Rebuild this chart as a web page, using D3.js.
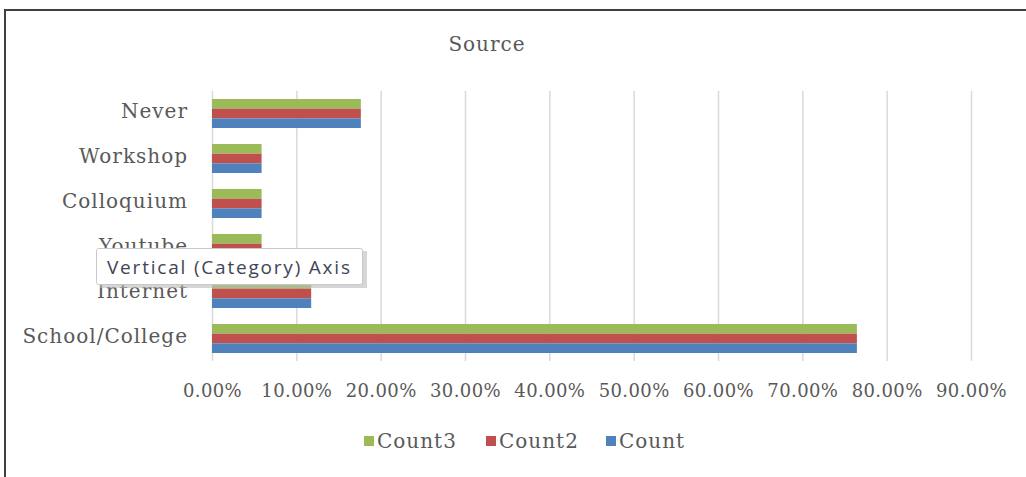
<!DOCTYPE html>
<html>
<head>
<meta charset="utf-8">
<script src="https://cdn.jsdelivr.net/npm/d3@7"></script>
<style>
  body { margin: 0; background: #fff; }
  svg { display: block; }
  .tick text { fill: #595959; }
</style>
</head>
<body>
<svg id="chart" width="1026" height="477"></svg>
<script>
// categories top to bottom
const categories = ['Never', 'Workshop', 'Colloquium', 'Youtube', 'Internet', 'School/College'];
const seriesNames = ['Count3', 'Count2', 'Count'];
const count = [0.1765, 0.0588, 0.0588, 0.0588, 0.1176, 0.7647];
const count2 = [0.1765, 0.0588, 0.0588, 0.0588, 0.1176, 0.7647];
const count3 = [0.1765, 0.0588, 0.0588, 0.0588, 0.1176, 0.7647];
const xTicks = [0, 0.1, 0.2, 0.3, 0.4, 0.5, 0.6, 0.7, 0.8, 0.9];
const colors = { Count3: '#9bbb59', Count2: '#c0504d', Count: '#4f81bd' };

const seriesValues = { Count3: count3, Count2: count2, Count: count };

const svg = d3.select('#chart');
const serif = 'DejaVu Serif';

// chart frame
svg.append('rect')
    .attr('x', 5).attr('y', 10)
    .attr('width', 1040).attr('height', 480)
    .attr('fill', '#fff')
    .attr('stroke', '#404040')
    .attr('stroke-width', 2);

svg.append('text')
    .attr('x', 487).attr('y', 51)
    .attr('text-anchor', 'middle')
    .attr('font-family', serif)
    .attr('font-size', 20)
    .attr('letter-spacing', 1)
    .attr('fill', '#595959')
    .text('Source');

const x = d3.scaleLinear().domain([0, 0.9]).range([212, 971]);
const y = d3.scaleBand().domain(categories).range([91, 361])
    .paddingInner(0.355).paddingOuter(0.1775);
const ySeries = d3.scaleBand().domain(seriesNames).range([0, y.bandwidth()]);

// gridlines
svg.append('g')
    .attr('transform', 'translate(0,361)')
    .call(d3.axisBottom(x).tickValues(xTicks).tickSize(-270).tickFormat(''))
    .call(g => g.select('.domain').remove())
    .call(g => g.selectAll('line').attr('stroke', '#d9d9d9').attr('stroke-width', 1.5));

// x tick labels
svg.append('g')
    .attr('transform', 'translate(0,361)')
    .call(d3.axisBottom(x).tickValues(xTicks).tickSize(0).tickPadding(23).tickFormat(d3.format('.2%')))
    .call(g => g.select('.domain').remove())
    .call(g => g.selectAll('text').attr('font-family', serif).attr('font-size', 18).attr('letter-spacing', 0.4));

// bars
const groups = svg.append('g').selectAll('g')
    .data(categories)
    .join('g')
    .attr('transform', d => `translate(0,${y(d)})`);

groups.selectAll('rect')
    .data((c, i) => seriesNames.map(s => ({ s, v: seriesValues[s][i] })))
    .join('rect')
    .attr('x', x(0))
    .attr('y', d => ySeries(d.s))
    .attr('width', d => x(d.v) - x(0))
    .attr('height', ySeries.bandwidth())
    .attr('fill', d => colors[d.s]);

// category axis
svg.append('g')
    .attr('transform', 'translate(212,0)')
    .call(d3.axisLeft(y).tickSize(0).tickPadding(24))
    .call(g => g.select('.domain').remove())
    .call(g => g.selectAll('text').attr('font-family', serif).attr('font-size', 20)
        .attr('letter-spacing', 1).attr('dy', '0.2em'));

// legend
const legendX = [369, 491, 611];
const legend = svg.append('g').selectAll('g')
    .data(seriesNames)
    .join('g')
    .attr('transform', (d, i) => `translate(${legendX[i]},441)`);
legend.append('rect')
    .attr('x', -5).attr('y', -5).attr('width', 10).attr('height', 10)
    .attr('fill', d => colors[d]);
legend.append('text')
    .attr('x', 8).attr('y', 7)
    .attr('font-family', serif)
    .attr('font-size', 20)
    .attr('letter-spacing', 1)
    .attr('fill', '#595959')
    .text(d => d);

// tooltip
const tip = svg.append('g');
tip.append('rect')
    .attr('x', 100).attr('y', 251).attr('width', 267).attr('height', 37)
    .attr('fill', '#bbb').attr('opacity', 0.6);
tip.append('rect')
    .attr('x', 96.5).attr('y', 248.5).attr('width', 266).attr('height', 36)
    .attr('rx', 2)
    .attr('fill', '#fff')
    .attr('stroke', '#c8c8c8');
tip.append('text')
    .attr('x', 107).attr('y', 274)
    .attr('font-family', 'Open Sans')
    .attr('font-size', 19)
    .attr('textLength', 243)
    .attr('lengthAdjust', 'spacing')
    .attr('fill', '#3f4556')
    .text('Vertical (Category) Axis');
</script>
</body>
</html>
